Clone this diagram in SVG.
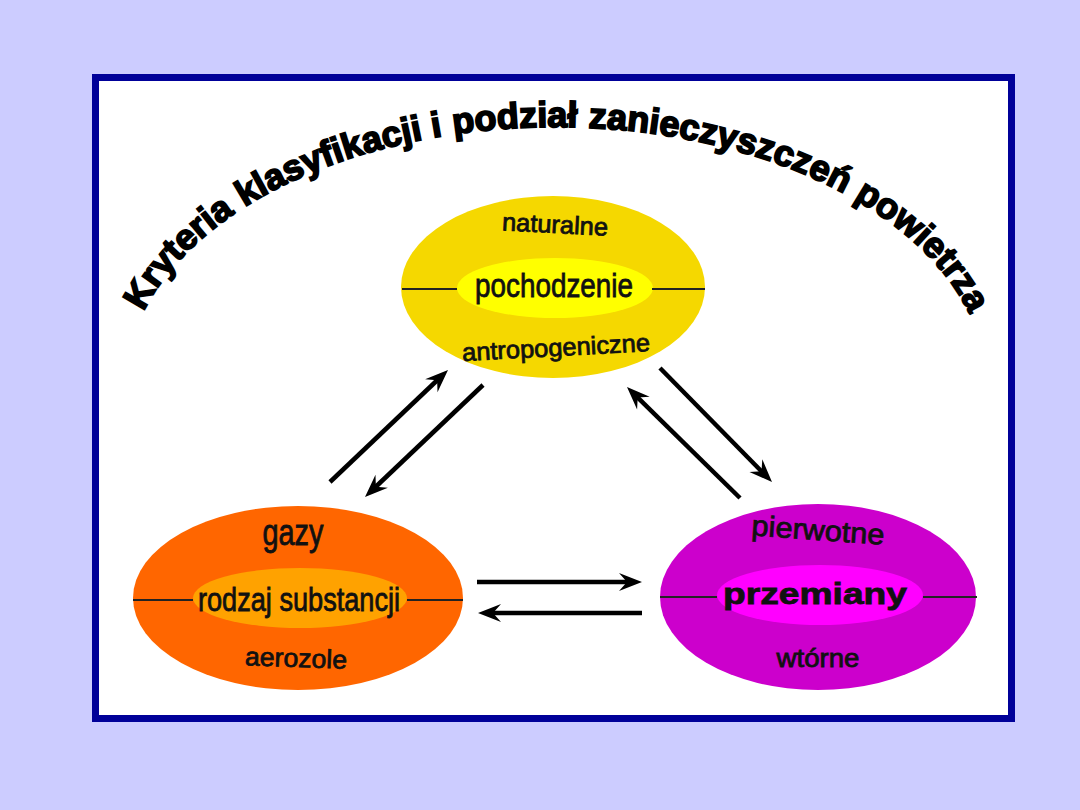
<svg xmlns="http://www.w3.org/2000/svg" width="1080" height="810" viewBox="0 0 1080 810">
  <defs>
    <style>
      .lbl { font-family: "Liberation Sans Narrow", "Liberation Sans", Arial, sans-serif; fill: #111; stroke: #111; stroke-width: 0.8; text-anchor: middle; }
      .title { font-family: "Liberation Sans", Arial, sans-serif; font-weight: bold; font-size: 36px; fill: #000; stroke: #000; stroke-width: 1.8; }
      .div { stroke: #222; stroke-width: 2; }
      .arr { stroke: #000; stroke-width: 4.5; fill: none; marker-end: url(#head); }
    </style>
    <marker id="head" markerUnits="userSpaceOnUse" viewBox="-16 -10 26 20" refX="0" refY="0" markerWidth="26" markerHeight="20" orient="auto">
      <path d="M8,0 L-15,-9 L-7,0 L-15,9 Z" fill="#000"/>
    </marker>
    <path id="arc" d="M126,385 A430 258 0 0 1 986,385" fill="none"/>
  </defs>

  <rect x="0" y="0" width="1080" height="810" fill="#CCCCFF"/>
  <rect x="95.5" y="77.5" width="916" height="641" fill="#FFFFFF" stroke="#000099" stroke-width="7"/>

  <g id="title">
    <text class="title"><textPath href="#arc" startOffset="76">Kryteria</textPath></text>
    <text class="title"><textPath href="#arc" startOffset="223">klasyfikacji</textPath></text>
    <text class="title"><textPath href="#arc" startOffset="425">i</textPath></text>
    <text class="title"><textPath href="#arc" startOffset="446">podział</textPath></text>
    <text class="title"><textPath href="#arc" startOffset="581">zanieczyszczeń</textPath></text>
    <text class="title"><textPath href="#arc" startOffset="858">powietrza</textPath></text>
  </g>

  <g id="pochodzenie">
    <ellipse cx="553" cy="287" rx="152" ry="91" fill="#F5D800"/>
    <ellipse cx="555" cy="288" rx="98" ry="30" fill="#FFFF00"/>
    <line class="div" x1="402" y1="289" x2="457" y2="289"/>
    <line class="div" x1="652" y1="289" x2="705" y2="289"/>
    <text class="lbl" x="555" y="233" font-size="25" textLength="106" lengthAdjust="spacingAndGlyphs" transform="rotate(3 555 225)">naturalne</text>
    <text class="lbl" x="554" y="297" font-size="34" textLength="158" lengthAdjust="spacingAndGlyphs">pochodzenie</text>
    <text class="lbl" x="556" y="356" font-size="25" textLength="188" lengthAdjust="spacingAndGlyphs" transform="rotate(-3 556 348)">antropogeniczne</text>
  </g>

  <g id="rodzaj-substancji">
    <ellipse cx="298" cy="598" rx="165" ry="92" fill="#FF6600"/>
    <ellipse cx="300" cy="598" rx="107" ry="30" fill="#FFA200"/>
    <line class="div" x1="133" y1="600" x2="193" y2="600"/>
    <line class="div" x1="407" y1="600" x2="463" y2="600"/>
    <text class="lbl" x="293" y="545" font-size="36" textLength="61" lengthAdjust="spacingAndGlyphs">gazy</text>
    <text class="lbl" x="299" y="611" font-size="33" textLength="202" lengthAdjust="spacingAndGlyphs">rodzaj substancji</text>
    <text class="lbl" x="296" y="667" font-size="26" textLength="102" lengthAdjust="spacingAndGlyphs" transform="rotate(2 296 660)">aerozole</text>
  </g>

  <g id="przemiany">
    <ellipse cx="818" cy="597" rx="158" ry="93" fill="#CC00CC"/>
    <ellipse cx="820" cy="595" rx="103" ry="30" fill="#FF00FF"/>
    <line class="div" x1="660" y1="597" x2="717" y2="597"/>
    <line class="div" x1="923" y1="597" x2="977" y2="597"/>
    <text class="lbl" x="818" y="540" font-size="29" textLength="133" lengthAdjust="spacingAndGlyphs" transform="rotate(4 818 532)">pierwotne</text>
    <text class="lbl" x="815" y="604" font-size="30" font-weight="bold" font-family="Liberation Sans, Arial, sans-serif" textLength="184" lengthAdjust="spacingAndGlyphs">przemiany</text>
    <text class="lbl" x="818" y="667" font-size="25" textLength="83" lengthAdjust="spacingAndGlyphs">wtórne</text>
  </g>

  <g id="connectors">
    <line class="arr" x1="330" y1="482" x2="442.2" y2="375.5"/>
    <line class="arr" x1="483" y1="385" x2="370.8" y2="491.5"/>
    <line class="arr" x1="740" y1="498" x2="632.7" y2="392.6"/>
    <line class="arr" x1="660" y1="368" x2="766.4" y2="476.3"/>
    <line class="arr" x1="477" y1="582" x2="634" y2="582"/>
    <line class="arr" x1="642" y1="613" x2="486" y2="613"/>
  </g>
</svg>
